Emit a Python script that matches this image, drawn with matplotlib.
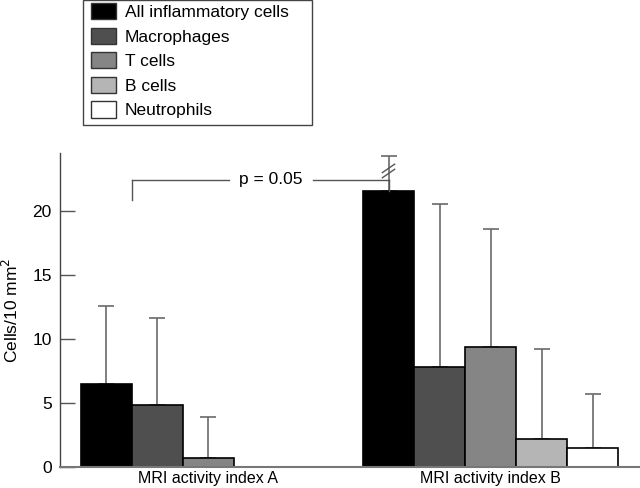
import matplotlib
matplotlib.use("Agg")
import matplotlib.pyplot as plt
from matplotlib.patches import Patch, Rectangle

plt.rcParams['font.family'] = ['Liberation Sans', 'DejaVu Sans']

groups = ["MRI activity index A", "MRI activity index B"]
cell_types = ["All inflammatory cells", "Macrophages", "T cells", "B cells", "Neutrophils"]
colors = ["#000000", "#4f4f4f", "#858585", "#b5b5b5", "#ffffff"]
means_A = [6.5, 4.85, 0.7, 0.0, 0.0]
sd_A = [6.1, 6.75, 3.2, 0.0, 0.0]
means_B = [21.5, 7.8, 9.35, 2.15, 1.45]
sd_B = [2.8, 12.7, 9.2, 7.05, 4.25]
p_text = "p = 0.05"

W, H = 640, 488
fig = plt.figure(figsize=(W / 100, H / 100), dpi=100)
ax = fig.add_axes([60 / W, (H - 467) / H, (W - 60) / W, (467 - 153) / H])

group_offset = [0.0, 5.53]
bw = 1.0
all_means = [means_A, means_B]
all_sds = [sd_A, sd_B]
for g in range(2):
    for i in range(5):
        x = group_offset[g] + i * bw + bw / 2
        m = all_means[g][i]
        s = all_sds[g][i]
        if m > 0:
            ax.bar(x, m, width=bw, color=colors[i], edgecolor="black", linewidth=1.2, zorder=2)
        if s > 0:
            ax.errorbar(x, m, yerr=[[0], [s]], fmt="none", ecolor="#6a6a6a",
                        elinewidth=1.2, capsize=6, capthick=1.2, zorder=1)

ax.set_xlim(-0.41, 10.96)
ax.set_ylim(0, 24.5)
ax.set_yticks([0, 5, 10, 15, 20])
ax.tick_params(axis="y", direction="in", length=11, width=1, color="#555555",
               labelsize=12.5, pad=6)
ax.set_xticks([group_offset[0] + 2.5, group_offset[1] + 2.5])
ax.set_xticklabels(groups, fontsize=11.5)
ax.tick_params(axis="x", length=0, pad=3)
for side in ["top", "right"]:
    ax.spines[side].set_visible(False)
ax.spines["left"].set_color("#444444")
ax.spines["bottom"].set_color("#777777")
ax.spines["left"].set_linewidth(1.0)
ax.spines["bottom"].set_linewidth(1.5)
ax.set_ylabel("Cells/10 mm$^2$", fontsize=12.5, labelpad=8)

# significance bracket
xl = 1.0
xr = group_offset[1] + 0.5
yb = 22.4
ax.plot([xl, xl], [20.8, yb], color="#555555", lw=1.0, zorder=3)
ax.plot([xl, 2.9], [yb, yb], color="#555555", lw=1.0, zorder=3)
ax.plot([4.55, xr], [yb, yb], color="#555555", lw=1.0, zorder=3)
ax.plot([xr, xr], [yb, means_B[0]], color="#555555", lw=1.0, zorder=3)
ax.text(3.72, yb, p_text, ha="center", va="center", fontsize=12.5)

# break marks on the broken error bar
for dy in (0.0, 0.4):
    ax.plot([xr - 0.12, xr + 0.12], [22.9 + dy - 0.33, 22.9 + dy + 0.33],
            color="#555555", lw=1.0, zorder=4)

# legend with a hand-placed frame
fig.patches.append(Rectangle((83 / W, 1 - 125 / H), (312 - 83) / W, 124.5 / H,
                             transform=fig.transFigure, facecolor="white",
                             edgecolor="#444444", linewidth=1.0, zorder=0))
handles = [Patch(facecolor=c, edgecolor="#333333", linewidth=1.0) for c in colors]
leg = fig.legend(handles, cell_types, loc="upper left",
                 bbox_to_anchor=(91 / W, 1 - 3 / H), fontsize=12.5,
                 handlelength=1.45, handleheight=1.05, labelspacing=0.44,
                 handletextpad=0.5, borderpad=0, borderaxespad=0,
                 frameon=False)

fig.savefig("out.png", dpi=100)
